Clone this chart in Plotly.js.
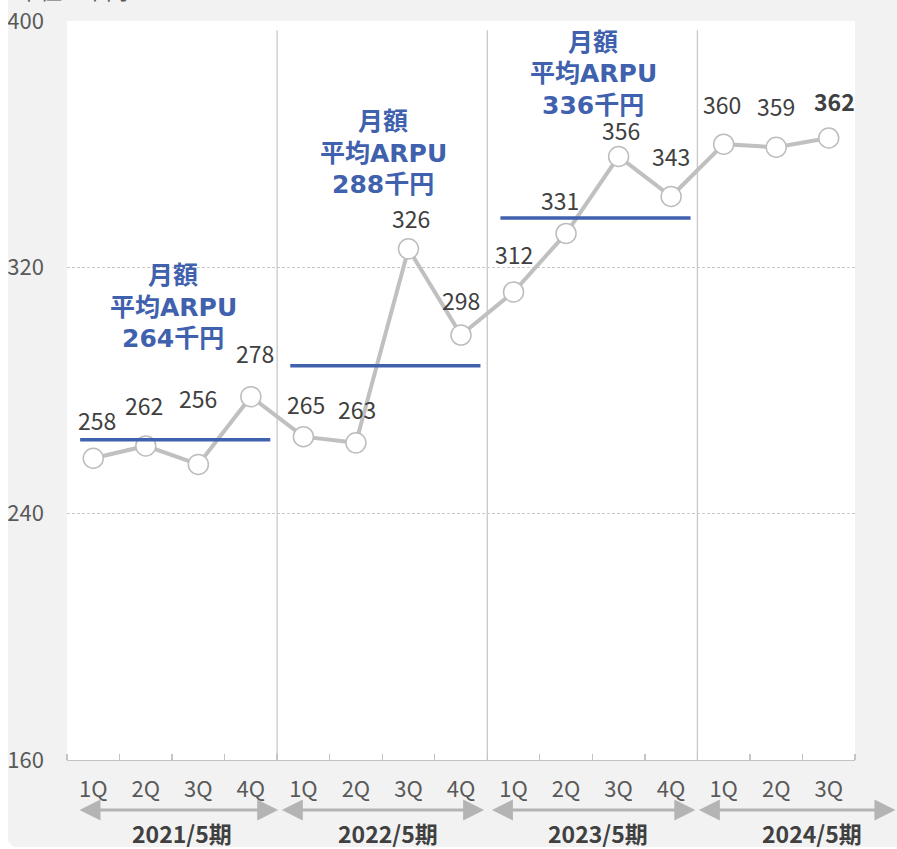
<!DOCTYPE html>
<html>
<head>
<meta charset="utf-8">
<script src="https://cdn.plot.ly/plotly-3.0.1.min.js"></script>
<style>
  html, body { margin: 0; padding: 0; background: #ffffff; }
  #chart {
    position: absolute; left: 8px; top: 0; width: 889px; height: 847px;
    background: #f2f2f2; border-bottom-left-radius: 9px; overflow: hidden;
  }
</style>
</head>
<body>
<div id="chart"></div>
<script>
// Quarterly monthly ARPU (thousand yen)
const quarters = ['1Q','2Q','3Q','4Q','1Q','2Q','3Q','4Q','1Q','2Q','3Q','4Q','1Q','2Q','3Q'];
const arpu = [258, 262, 256, 278, 265, 263, 326, 298, 312, 331, 356, 343, 360, 359, 362];

// Fiscal periods and their full-year average ARPU
const periods = ['2021/5期', '2022/5期', '2023/5期', '2024/5期'];
const periodQuarterCount = [4, 4, 4, 3];
const periodAverage = [264, 288, 336];

// Label placement offsets (pixels) for each point's value label
const labelDy = [38, 41, 66, 44, 33, 34, 31, 35, 38, 33, 26, 41, 40, 41, 37];
const labelDx = [4, -2, 0, 4, 3, 1, 3, 0, 0, -6, 2, 0, -2, 0, 6];

const xIdx = arpu.map((_, i) => i);
const FONT = '"Noto Sans CJK JP", "Noto Sans", sans-serif';
const CAPTION_FONT = '"DejaVu Sans", "Noto Sans CJK JP", sans-serif';
const BLUE = '#4061ad';
const GRAY_LINE = '#c0c0c0';
const TEXT = '#404040';

const shapes = [];
const annotations = [];

// period boundaries
let start = 0;
const bounds = [];
periodQuarterCount.forEach(n => { bounds.push([start - 0.5, start + n - 0.5]); start += n; });

bounds.slice(0, -1).forEach(b => {
  shapes.push({
    type: 'line', xref: 'x', yref: 'y', x0: b[1], x1: b[1], y0: 160, y1: 397,
    line: {color: '#c8c8c8', width: 1.3}, layer: 'below'
  });
});

// average ARPU lines and three-line captions
const avgCaptionY = [307, 357, 382.8];
periodAverage.forEach((v, i) => {
  const b = bounds[i];
  shapes.push({
    type: 'line', xref: 'x', yref: 'y', x0: b[0] + 0.25, x1: b[1] - 0.13, y0: v, y1: v,
    line: {color: BLUE, width: 3.5}
  });
  const lines = ['月額', '平均ARPU', v + '千円'];
  lines.forEach((t, k) => {
    annotations.push({
      xref: 'x', yref: 'y', x: (b[0] + b[1]) / 2 + 0.02, y: avgCaptionY[i],
      yshift: (1 - k) * 31.5, xanchor: 'center', yanchor: 'middle',
      text: t, showarrow: false,
      font: {family: CAPTION_FONT, size: 25, color: BLUE, weight: 'bold'}
    });
  });
});

// value labels
arpu.forEach((v, i) => {
  annotations.push({
    xref: 'x', yref: 'y', x: i, y: v, text: String(v), showarrow: false,
    xshift: labelDx[i], yshift: labelDy[i], yanchor: 'middle',
    font: {family: FONT, size: 23, color: TEXT, weight: i === arpu.length - 1 ? 'bold' : 'normal'}
  });
});

// period arrows and labels below the axis
const arrowEnds = [[-0.29, 3.52], [3.56, 7.44], [7.56, 11.46], [11.5, 15.27]];
const periodLabelX = [1.69, 5.61, 9.6, 13.69];
arrowEnds.forEach((e, i) => {
  annotations.push({
    xref: 'x', yref: 'paper', axref: 'x', ayref: 'paper',
    x: e[1], y: -0.0677, ax: e[0], ay: -0.0677, text: '',
    showarrow: true, arrowhead: 2, arrowside: 'end+start', arrowsize: 1.4, arrowwidth: 3,
    arrowcolor: '#b4b4b4', standoff: 0, startstandoff: 0
  });
  annotations.push({
    xref: 'x', yref: 'paper', x: periodLabelX[i], y: -0.0985,
    xanchor: 'center', yanchor: 'middle',
    text: periods[i], showarrow: false,
    font: {family: FONT, size: 23, color: TEXT, weight: 'bold'}
  });
});

// unit caption, mostly above the top edge
annotations.push({
  xref: 'paper', yref: 'paper', x: -0.065, y: 1.0185, xanchor: 'left', yanchor: 'bottom',
  text: '単位：千円', showarrow: false, font: {family: FONT, size: 22, color: '#595959'}
});

const trace = {
  x: xIdx, y: arpu, type: 'scatter', mode: 'lines+markers',
  line: {color: GRAY_LINE, width: 4},
  marker: {size: 20, color: '#ffffff', line: {color: '#bdbdbd', width: 1.5}},
  cliponaxis: false, hoverinfo: 'skip'
};

const layout = {
  width: 889, height: 847,
  margin: {l: 59, r: 42, t: 21, b: 87},
  paper_bgcolor: '#f2f2f2', plot_bgcolor: '#ffffff',
  showlegend: false,
  font: {family: FONT, color: '#595959'},
  xaxis: {
    range: [-0.5, 14.5], tickmode: 'array', tickvals: xIdx, ticktext: quarters,
    ticks: '', showgrid: false, zeroline: false,
    showline: true, linecolor: '#c4c4c4', linewidth: 1.3,
    tickfont: {family: FONT, size: 22, color: '#595959'}, ticklabelstandoff: 9,
    minor: {tickmode: 'linear', tick0: -0.5, dtick: 1, ticks: 'inside', ticklen: 6,
            tickcolor: '#c4c4c4', tickwidth: 1.3, showgrid: false},
    fixedrange: true
  },
  yaxis: {
    range: [160, 400], tickmode: 'array', tickvals: [160, 240, 320, 400],
    ticks: '', showline: false, zeroline: false,
    showgrid: true, gridcolor: '#c8c8c8', griddash: '3px,2px', gridwidth: 1,
    tickfont: {family: FONT, size: 22, color: '#595959'}, ticklabelstandoff: 22,
    fixedrange: true
  },
  shapes: shapes,
  annotations: annotations
};

Plotly.newPlot('chart', [trace], layout, {displayModeBar: false, staticPlot: true});
</script>
</body>
</html>
